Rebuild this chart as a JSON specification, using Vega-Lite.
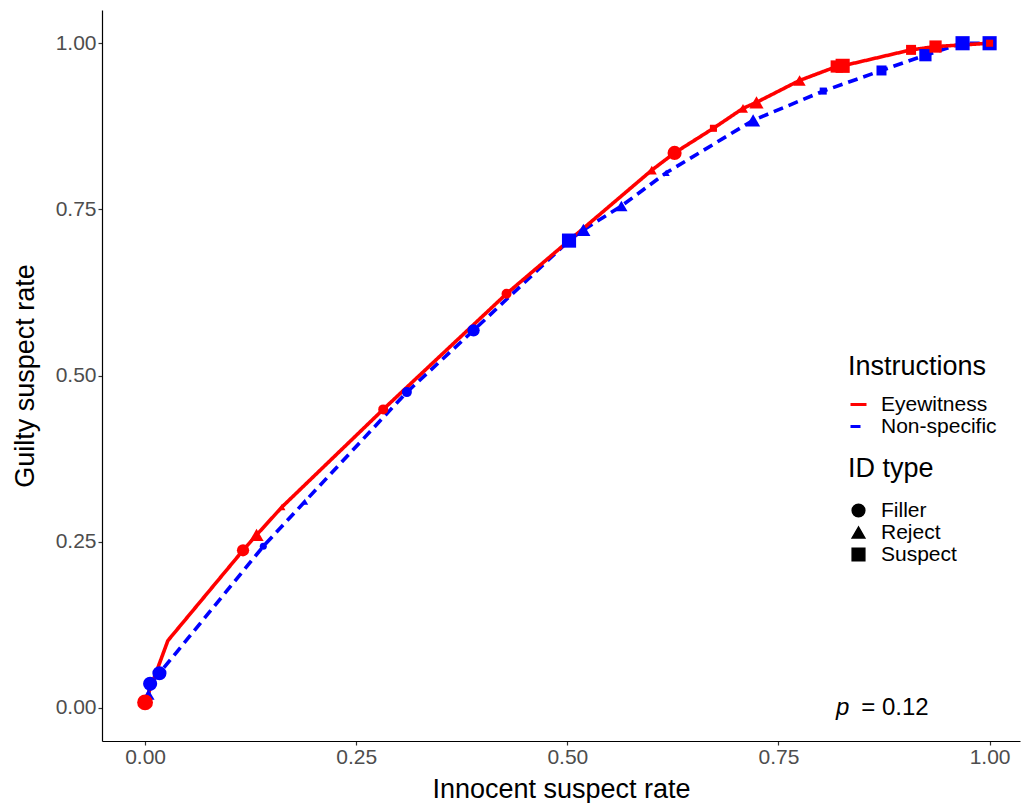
{
  "$schema": "https://vega.github.io/schema/vega-lite/v6.json",
  "width": 918,
  "height": 731,
  "autosize": {"type": "none"},
  "padding": {"left": 102, "top": 10, "right": 2, "bottom": 62},
  "background": "white",
  "config": {
    "view": {"stroke": null},
    "font": "Liberation Sans",
    "axis": {
      "grid": false,
      "domainColor": "black",
      "domainWidth": 1.2,
      "tickColor": "#333333",
      "tickSize": 4,
      "tickWidth": 1.2,
      "labelColor": "#4d4d4d",
      "labelFontSize": 21,
      "labelFont": "Liberation Sans",
      "titleFont": "Liberation Sans",
      "titleFontSize": 27,
      "titleFontWeight": "normal",
      "titleColor": "black"
    },
    "legend": {
      "titleFont": "Liberation Sans",
      "labelFont": "Liberation Sans",
      "titleFontSize": 27,
      "titleFontWeight": "normal",
      "labelFontSize": 21,
      "titleColor": "black",
      "labelColor": "black",
      "rowPadding": 0,
      "labelOffset": 12,
      "titlePadding": 12
    }
  },
  "datasets": {
    "roc": [
      {"Instructions": "Non-specific", "innocent": 0.004, "guilty": 0.020, "ID": "Reject", "n": 3},
      {"Instructions": "Non-specific", "innocent": 0.006, "guilty": 0.036, "ID": "Filler", "n": 4},
      {"Instructions": "Non-specific", "innocent": 0.017, "guilty": 0.052, "ID": "Filler", "n": 4},
      {"Instructions": "Non-specific", "innocent": 0.140, "guilty": 0.243, "ID": "Filler", "n": 1},
      {"Instructions": "Non-specific", "innocent": 0.189, "guilty": 0.310, "ID": "Reject", "n": 1},
      {"Instructions": "Non-specific", "innocent": 0.310, "guilty": 0.475, "ID": "Filler", "n": 2},
      {"Instructions": "Non-specific", "innocent": 0.389, "guilty": 0.568, "ID": "Filler", "n": 3},
      {"Instructions": "Non-specific", "innocent": 0.502, "guilty": 0.703, "ID": "Suspect", "n": 4},
      {"Instructions": "Non-specific", "innocent": 0.519, "guilty": 0.719, "ID": "Reject", "n": 4},
      {"Instructions": "Non-specific", "innocent": 0.564, "guilty": 0.755, "ID": "Reject", "n": 3},
      {"Instructions": "Non-specific", "innocent": 0.617, "guilty": 0.805, "ID": "Reject", "n": 1},
      {"Instructions": "Non-specific", "innocent": 0.720, "guilty": 0.884, "ID": "Reject", "n": 4},
      {"Instructions": "Non-specific", "innocent": 0.803, "guilty": 0.928, "ID": "Suspect", "n": 1},
      {"Instructions": "Non-specific", "innocent": 0.872, "guilty": 0.959, "ID": "Suspect", "n": 2},
      {"Instructions": "Non-specific", "innocent": 0.924, "guilty": 0.982, "ID": "Suspect", "n": 3},
      {"Instructions": "Non-specific", "innocent": 0.968, "guilty": 1.000, "ID": "Suspect", "n": 4},
      {"Instructions": "Non-specific", "innocent": 1.000, "guilty": 1.000, "ID": "Suspect", "n": 4},
      {"Instructions": "Eyewitness", "innocent": 0.000, "guilty": 0.008, "ID": "Filler", "n": 5},
      {"Instructions": "Eyewitness", "innocent": 0.027, "guilty": 0.101, "ID": "Filler", "n": 0},
      {"Instructions": "Eyewitness", "innocent": 0.116, "guilty": 0.237, "ID": "Filler", "n": 3},
      {"Instructions": "Eyewitness", "innocent": 0.132, "guilty": 0.260, "ID": "Reject", "n": 4},
      {"Instructions": "Eyewitness", "innocent": 0.162, "guilty": 0.302, "ID": "Reject", "n": 1},
      {"Instructions": "Eyewitness", "innocent": 0.282, "guilty": 0.449, "ID": "Filler", "n": 2},
      {"Instructions": "Eyewitness", "innocent": 0.428, "guilty": 0.623, "ID": "Filler", "n": 2},
      {"Instructions": "Eyewitness", "innocent": 0.600, "guilty": 0.809, "ID": "Reject", "n": 2},
      {"Instructions": "Eyewitness", "innocent": 0.627, "guilty": 0.835, "ID": "Filler", "n": 4},
      {"Instructions": "Eyewitness", "innocent": 0.673, "guilty": 0.872, "ID": "Suspect", "n": 1},
      {"Instructions": "Eyewitness", "innocent": 0.708, "guilty": 0.902, "ID": "Reject", "n": 2},
      {"Instructions": "Eyewitness", "innocent": 0.724, "guilty": 0.911, "ID": "Reject", "n": 4},
      {"Instructions": "Eyewitness", "innocent": 0.775, "guilty": 0.944, "ID": "Reject", "n": 3},
      {"Instructions": "Eyewitness", "innocent": 0.819, "guilty": 0.965, "ID": "Suspect", "n": 3},
      {"Instructions": "Eyewitness", "innocent": 0.826, "guilty": 0.966, "ID": "Suspect", "n": 4},
      {"Instructions": "Eyewitness", "innocent": 0.907, "guilty": 0.990, "ID": "Suspect", "n": 2},
      {"Instructions": "Eyewitness", "innocent": 0.936, "guilty": 0.995, "ID": "Suspect", "n": 3},
      {"Instructions": "Eyewitness", "innocent": 1.000, "guilty": 1.000, "ID": "Suspect", "n": 1}
    ],
    "note": [
      {"innocent": 0.835, "guilty": 0.0, "sym": "p", "val": "= 0.12"}
    ]
  },
  "layer": [
    {
      "data": {"name": "roc"},
      "mark": {"type": "line", "strokeWidth": 3.6},
      "encoding": {
        "x": {
          "field": "innocent", "type": "quantitative",
          "title": "Innocent suspect rate",
          "scale": {"domain": [-0.051, 1.036], "nice": false, "zero": false},
          "axis": {"values": [0, 0.25, 0.5, 0.75, 1], "format": ".2f", "labelPadding": 1, "titlePadding": 9}
        },
        "y": {
          "field": "guilty", "type": "quantitative",
          "title": "Guilty suspect rate",
          "scale": {"domain": [-0.05, 1.05], "nice": false, "zero": false},
          "axis": {"values": [0, 0.25, 0.5, 0.75, 1], "format": ".2f", "labelPadding": 2, "titlePadding": 16}
        },
        "color": {
          "field": "Instructions", "type": "nominal",
          "scale": {"domain": ["Eyewitness", "Non-specific"], "range": ["#ff0000", "#0000ff"]},
          "legend": {
            "orient": "none", "legendX": 746, "legendY": 344,
            "symbolType": "stroke", "symbolSize": 256, "symbolStrokeWidth": 3,
            "title": "Instructions", "titlePadding": 13
          }
        },
        "strokeDash": {
          "field": "Instructions", "type": "nominal",
          "scale": {"domain": ["Eyewitness", "Non-specific"], "range": [[1, 0], [10, 6]]},
          "legend": {
            "orient": "none", "legendX": 746, "legendY": 344,
            "symbolType": "stroke", "symbolSize": 256, "symbolStrokeWidth": 3,
            "title": "Instructions", "titlePadding": 13
          }
        },
        "order": {"field": "innocent", "type": "quantitative"}
      }
    },
    {
      "data": {"name": "roc"},
      "mark": {"type": "point", "filled": true, "opacity": 1, "strokeWidth": 0},
      "encoding": {
        "x": {"field": "innocent", "type": "quantitative"},
        "y": {"field": "guilty", "type": "quantitative"},
        "color": {
          "field": "Instructions", "type": "nominal",
          "legend": null
        },
        "shape": {
          "field": "ID", "type": "nominal",
          "title": "ID type",
          "scale": {"domain": ["Filler", "Reject", "Suspect"], "range": ["circle", "triangle-up", "square"]},
          "legend": {
            "orient": "none", "legendX": 746, "legendY": 446,
            "symbolSize": 160, "symbolFillColor": "black", "symbolStrokeColor": "black",
            "titlePadding": 17
          }
        },
        "size": {
          "field": "n", "type": "quantitative",
          "scale": {"domain": [0, 5], "range": [0, 250]},
          "legend": null
        }
      }
    },
    {
      "data": {"name": "note"},
      "mark": {"type": "text", "fontSize": 24, "fontStyle": "italic", "align": "right", "baseline": "middle", "dx": -1, "color": "black"},
      "encoding": {
        "x": {"field": "innocent", "type": "quantitative"},
        "y": {"field": "guilty", "type": "quantitative"},
        "text": {"field": "sym"}
      }
    },
    {
      "data": {"name": "note"},
      "mark": {"type": "text", "fontSize": 24, "align": "left", "baseline": "middle", "dx": 11, "color": "black"},
      "encoding": {
        "x": {"field": "innocent", "type": "quantitative"},
        "y": {"field": "guilty", "type": "quantitative"},
        "text": {"field": "val"}
      }
    }
  ]
}
